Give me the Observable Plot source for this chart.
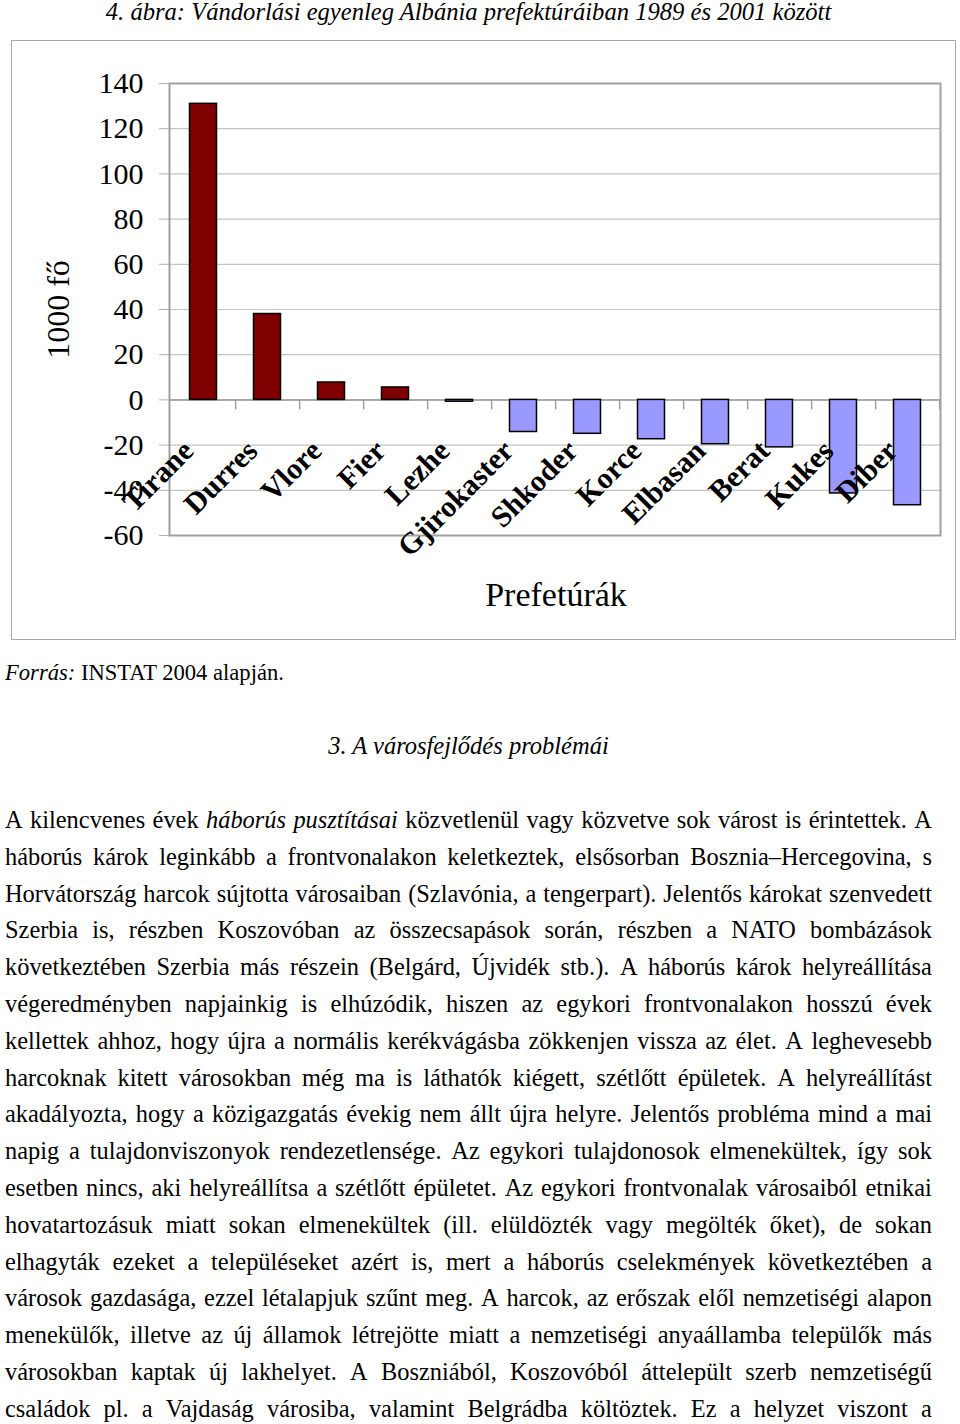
<!DOCTYPE html>
<html>
<head>
<meta charset="utf-8">
<script src="https://cdn.jsdelivr.net/npm/d3@7"></script>
<script src="https://cdn.jsdelivr.net/npm/@observablehq/plot@0.6"></script>
<style>
  html, body { margin: 0; padding: 0; background: #fff; }
  body { position: relative; width: 960px; height: 1424px; font-family: "Liberation Serif", "Times New Roman", serif; color: #000; overflow: hidden; }
  .abs { position: absolute; }
  #title { left: 5px; width: 927px; top: 0px; height: 24px; line-height: 24px; text-align: center; font-style: italic; font-size: 24.6px; }
  #box { left: 11px; top: 40px; width: 943px; height: 598px; border: 1.5px solid #a8a8a8; }
  #chart { left: 0px; top: 40px; }
  #source { left: 5px; top: 660px; font-size: 22.6px; line-height: 26px; }
  #heading { left: 5px; width: 927px; top: 733px; font-size: 24.5px; line-height: 26px; text-align: center; font-style: italic; }
  #para { left: 5px; width: 927px; top: 802px; font-size: 24.4px; }
  .line { display: flex; justify-content: space-between; white-space: nowrap; height: 36.8px; line-height: 36.8px; }
</style>
</head>
<body>
<div id="title" class="abs">4. ábra: Vándorlási egyenleg Albánia prefektúráiban 1989 és 2001 között</div>
<div id="box" class="abs"></div>
<div id="chart" class="abs"></div>
<div id="source" class="abs"><i>Forrás:</i> INSTAT 2004 alapján.</div>
<div id="heading" class="abs">3. A városfejlődés problémái</div>
<div id="para" class="abs"></div>
<script>
// ---- data ----
const prefectures = ["Tirane", "Durres", "Vlore", "Fier", "Lezhe", "Gjirokaster", "Shkoder", "Korce", "Elbasan", "Berat", "Kukes", "Diber"];
const balance = [131, 38, 7.7, 5.5, -0.8, -14.2, -15, -17.4, -19.6, -21, -41.4, -46.6];
const yTicks = [-60, -40, -20, 0, 20, 40, 60, 80, 100, 120, 140];
const yLabel = "1000 fő";
const xLabel = "Prefetúrák";

const paragraphLines = [
  "A kilencvenes évek *háborús *pusztításai közvetlenül vagy közvetve sok várost is érintettek. A",
  "háborús károk leginkább a frontvonalakon keletkeztek, elsősorban Bosznia–Hercegovina, s",
  "Horvátország harcok sújtotta városaiban (Szlavónia, a tengerpart). Jelentős károkat szenvedett",
  "Szerbia is, részben Koszovóban az összecsapások során, részben a NATO bombázások",
  "következtében Szerbia más részein (Belgárd, Újvidék stb.). A háborús károk helyreállítása",
  "végeredményben napjainkig is elhúzódik, hiszen az egykori frontvonalakon hosszú évek",
  "kellettek ahhoz, hogy újra a normális kerékvágásba zökkenjen vissza az élet. A leghevesebb",
  "harcoknak kitett városokban még ma is láthatók kiégett, szétlőtt épületek. A helyreállítást",
  "akadályozta, hogy a közigazgatás évekig nem állt újra helyre. Jelentős probléma mind a mai",
  "napig a tulajdonviszonyok rendezetlensége. Az egykori tulajdonosok elmenekültek, így sok",
  "esetben nincs, aki helyreállítsa a szétlőtt épületet. Az egykori frontvonalak városaiból etnikai",
  "hovatartozásuk miatt sokan elmenekültek (ill. elüldözték vagy megölték őket), de sokan",
  "elhagyták ezeket a településeket azért is, mert a háborús cselekmények következtében a",
  "városok gazdasága, ezzel létalapjuk szűnt meg. A harcok, az erőszak elől nemzetiségi alapon",
  "menekülők, illetve az új államok létrejötte miatt a nemzetiségi anyaállamba települők más",
  "városokban kaptak új lakhelyet. A Boszniából, Koszovóból áttelepült szerb nemzetiségű",
  "családok pl. a Vajdaság városiba, valamint Belgrádba költöztek. Ez a helyzet viszont a"
];

// ---- chart ----
const data = prefectures.map((p, i) => ({prefecture: p, value: balance[i]}));
const W = 960, H = 600;
const mL = 169, mR = 20, mT = 43, mB = 105;
const step = (W - mL - mR) / prefectures.length;
const yDomain = [d3.min(yTicks), d3.max(yTicks)];
const yZeroPx = mT + (yDomain[1] - 0) / (yDomain[1] - yDomain[0]) * (H - mT - mB);
const plotBottomPx = H - mB;

const chart = Plot.plot({
  width: W, height: H,
  marginLeft: mL, marginRight: mR, marginTop: mT, marginBottom: mB,
  style: {fontFamily: "'Liberation Serif', 'Times New Roman', serif", fontSize: "30px", color: "#000", background: "transparent"},
  x: {type: "band", domain: prefectures, padding: 0, axis: null},
  y: {domain: yDomain, axis: null},
  marks: [
    Plot.ruleY(yTicks, {stroke: "#c4c4c4", strokeWidth: 1.2}),
    Plot.axisY({ticks: yTicks, tickSize: 10, tickPadding: 16, stroke: "#b0b0b0", fontSize: 30, label: null, tickFormat: d => String(d)}),
    Plot.ruleY([0], {stroke: "#9a9a9a", strokeWidth: 1.5}),
    Plot.axisX({anchor: "bottom", tickSize: 10, tickFormat: () => "", label: null, stroke: "#a0a0a0", strokeWidth: 1.5, dx: step / 2, dy: yZeroPx - plotBottomPx}),
    Plot.frame({stroke: "#a0a0a0", strokeWidth: 2}),
    Plot.barY(data, {x: "prefecture", y: "value", fill: d => d.value >= 0 ? "#800000" : "#9999ff", stroke: "#000", strokeWidth: 1.5, insetLeft: 18.5, insetRight: 18.5}),
    Plot.text(prefectures, {x: d => d, y: 0, text: d => d, rotate: -45, textAnchor: "end", lineAnchor: "middle", fontWeight: "bold", fontSize: 30, dx: -15, dy: 46, fill: "#000"}),
    Plot.text([yLabel], {frameAnchor: "left", textAnchor: "middle", rotate: -90, dx: -111, fontSize: 32, text: d => d, fill: "#000"}),
    Plot.text([xLabel], {frameAnchor: "bottom", dy: 70, dx: 1, fontSize: 34, text: d => d, fill: "#000"})
  ]
});
document.getElementById("chart").appendChild(chart);

// ---- paragraph ----
const para = document.getElementById("para");
for (const line of paragraphLines) {
  const div = document.createElement("div");
  div.className = "line";
  for (const w of line.split(" ")) {
    const span = document.createElement("span");
    if (w.startsWith("*")) { span.style.fontStyle = "italic"; span.textContent = w.slice(1); }
    else span.textContent = w;
    div.appendChild(span);
  }
  para.appendChild(div);
}
</script>
</body>
</html>
